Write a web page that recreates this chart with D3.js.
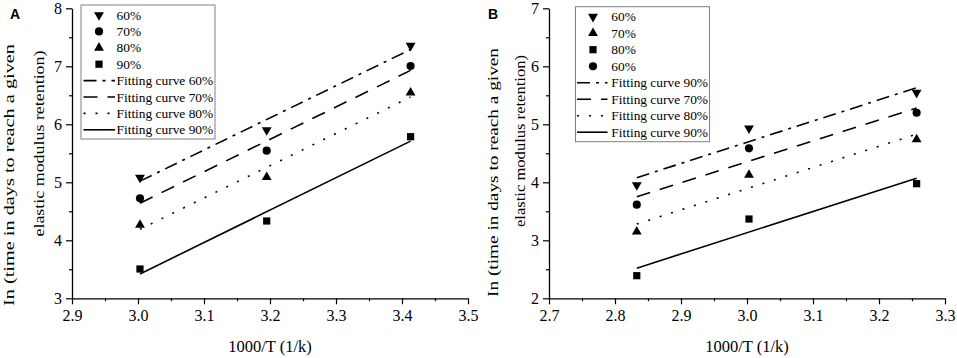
<!DOCTYPE html>
<html>
<head>
<meta charset="utf-8">
<script src="https://cdn.jsdelivr.net/npm/d3@7"></script>
<style>
  body { margin: 0; background: #fff; }
  svg text { font-family: "Liberation Serif", "Times New Roman", serif; fill: #000; }
</style>
</head>
<body>
<div id="drawing"></div>
<script>
// panel A : 1000/T values and ln(time) per retention level
var xA = [3.003, 3.195, 3.413];
var a60 = [5.08, 5.90, 7.355];
var a70 = [4.724, 5.545, 7.005];
var a80 = [4.264, 5.09, 6.545];
var a90 = [3.505, 4.333, 5.786];
var fitXA = [3.003, 3.413];
var fitA60 = [5.02, 7.29];
var fitA70 = [4.64, 6.93];
var fitA80 = [4.19, 6.47];
var fitA90 = [3.42, 5.71];
var xTicksA = [2.9, 3.0, 3.1, 3.2, 3.3, 3.4, 3.5];
var yTicksA = [3, 4, 5, 6, 7, 8];
var pointLabelsA = ["60%", "70%", "80%", "90%"];
var fitLabelsA = ["Fitting curve 60%", "Fitting curve 70%", "Fitting curve 80%", "Fitting curve 90%"];

// panel B
var xB = [2.833, 3.003, 3.257];
var b60 = [3.953, 4.93, 5.545];
var b70 = [3.148, 4.126, 4.741];
var b80 = [2.39, 3.367, 3.976];
var b60c = [3.614, 4.586, 5.2];
var fitXB = [2.833, 3.257];
var fitB1 = [4.08, 5.63];
var fitB2 = [3.75, 5.28];
var fitB3 = [3.28, 4.83];
var fitB4 = [2.52, 4.07];
var xTicksB = [2.7, 2.8, 2.9, 3.0, 3.1, 3.2, 3.3];
var yTicksB = [2, 3, 4, 5, 6, 7];
var pointLabelsB = ["60%", "70%", "80%", "60%"];
var fitLabelsB = ["Fitting curve 90%", "Fitting curve 70%", "Fitting curve 80%", "Fitting curve 90%"];

var width = 957, height = 358;
var plotW = 396, plotH = 290;
var dashes = ["13,6,3,6", "14,10", "2,10", null];

var svg = d3.select("#drawing").append("svg")
  .attr("width", width)
  .attr("height", height)
  .style("background", "#fff");

function marker(kind) {
  var sym = d3.symbol();
  if (kind == "circle") return sym.type(d3.symbolCircle).size(52)();
  if (kind == "square") return sym.type(d3.symbolSquare).size(52)();
  return sym.type(d3.symbolTriangle).size(42)();
}

function mids(ticks) {
  return d3.pairs(ticks).map(function(p) { return (p[0] + p[1]) / 2; });
}

function drawPanel(p) {
  var g = svg.append("g").attr("transform", `translate(${p.left}, 8.3)`);

  var x = d3.scaleLinear().domain(d3.extent(p.xTicks)).range([0, plotW]);
  var y = d3.scaleLinear().domain(d3.extent(p.yTicks)).range([plotH, 0]);

  // axes, major + minor ticks
  var xAxis = g.append("g").attr("transform", `translate(0, ${plotH})`)
    .call(d3.axisBottom(x).tickValues(p.xTicks).tickFormat(d3.format(".1f"))
      .tickSize(6).tickSizeOuter(0).tickPadding(5));
  g.append("g").attr("transform", `translate(0, ${plotH})`)
    .call(d3.axisBottom(x).tickValues(mids(p.xTicks)).tickFormat("").tickSize(3).tickSizeOuter(0))
    .select(".domain").remove();
  var yAxis = g.append("g")
    .call(d3.axisLeft(y).tickValues(p.yTicks).tickFormat(d3.format("d"))
      .tickSize(6).tickSizeOuter(0).tickPadding(4));
  g.append("g")
    .call(d3.axisLeft(y).tickValues(mids(p.yTicks)).tickFormat("").tickSize(3).tickSizeOuter(0))
    .select(".domain").remove();

  g.selectAll(".domain").attr("stroke", "#000").attr("stroke-width", 1.3);
  g.selectAll(".tick line").attr("stroke", "#000").attr("stroke-width", 1.2);
  g.selectAll(".tick text")
    .style("font-family", '"Liberation Serif", serif')
    .style("font-size", "16px")
    .attr("fill", "#000");

  // fitted lines
  var line = d3.line().x(function(d) { return x(d[0]); }).y(function(d) { return y(d[1]); });
  p.fits.forEach(function(f, i) {
    g.append("path")
      .attr("d", line(d3.zip(p.fitX, f)))
      .attr("fill", "none")
      .attr("stroke", "#000")
      .attr("stroke-width", 1.6)
      .attr("stroke-dasharray", dashes[i]);
  });

  // points
  p.series.forEach(function(s, i) {
    g.selectAll(null).data(d3.zip(p.xs, s)).enter().append("path")
      .attr("d", marker(p.shapes[i]))
      .attr("transform", function(d) {
        return `translate(${x(d[0])}, ${y(d[1])})` + (p.shapes[i] == "down" ? " rotate(180)" : "");
      })
      .attr("fill", "#000");
  });

  // legend
  var lg = svg.append("g");
  lg.append("rect")
    .attr("x", p.legend.x).attr("y", p.legend.y)
    .attr("width", p.legend.w).attr("height", p.legend.h)
    .attr("fill", "#fff").attr("stroke", "#808080").attr("stroke-width", 1);
  var rows = p.pointLabels.concat(p.fitLabels);
  rows.forEach(function(label, i) {
    var cy = p.legend.row0 + i * p.legend.step;
    if (i < 4) {
      lg.append("path")
        .attr("d", marker(p.shapes[i]))
        .attr("transform", `translate(${p.legend.mx}, ${cy})` + (p.shapes[i] == "down" ? " rotate(180)" : ""))
        .attr("fill", "#000");
    } else {
      lg.append("line")
        .attr("x1", p.legend.sx0).attr("x2", p.legend.sx1)
        .attr("y1", cy).attr("y2", cy)
        .attr("stroke", "#000").attr("stroke-width", 1.6)
        .attr("stroke-dasharray", dashes[i - 4]);
    }
    lg.append("text")
      .attr("x", p.legend.tx).attr("y", cy).attr("dy", "0.35em")
      .style("font-size", "13.4px")
      .text(label);
  });

  // axis titles
  svg.append("text")
    .attr("x", p.left + plotW / 2).attr("y", 352)
    .attr("text-anchor", "middle")
    .style("font-size", "16.5px")
    .text("1000/T (1/k)");
  p.yTitle.forEach(function(t) {
    svg.append("text")
      .attr("transform", `translate(${t.x}, ${t.cy}) rotate(-90)`)
      .attr("text-anchor", "middle")
      .attr("textLength", t.len)
      .attr("lengthAdjust", "spacingAndGlyphs")
      .style("font-size", "15px")
      .text(t.text);
  });

  svg.append("text")
    .attr("x", p.tagX).attr("y", 18.5)
    .style("font-family", '"Liberation Sans", Arial, sans-serif')
    .style("font-weight", "bold")
    .style("font-size", "14px")
    .text(p.tag);
}

var line1 = "In (time in days to reach a given";
var line2 = "elastic modulus retention)";

drawPanel({
  left: 72, tag: "A", tagX: 10,
  xTicks: xTicksA, yTicks: yTicksA,
  xs: xA, series: [a60, a70, a80, a90],
  shapes: ["down", "circle", "up", "square"],
  fitX: fitXA, fits: [fitA60, fitA70, fitA80, fitA90],
  pointLabels: pointLabelsA, fitLabels: fitLabelsA,
  legend: { x: 81, y: 5, w: 134, h: 134, row0: 15, step: 16.4, mx: 99, sx0: 83.5, sx1: 115, tx: 116.5 },
  yTitle: [
    { text: line1, x: 13.5, cy: 175, len: 262 },
    { text: line2, x: 43.5, cy: 143.5, len: 186 }
  ]
});

drawPanel({
  left: 549, tag: "B", tagX: 488,
  xTicks: xTicksB, yTicks: yTicksB,
  xs: xB, series: [b60, b70, b80, b60c],
  shapes: ["down", "up", "square", "circle"],
  fitX: fitXB, fits: [fitB1, fitB2, fitB3, fitB4],
  pointLabels: pointLabelsB, fitLabels: fitLabelsB,
  legend: { x: 575.5, y: 6.7, w: 134, h: 135, row0: 16.7, step: 16.5, mx: 593, sx0: 577, sx1: 607.5, tx: 611.3 },
  yTitle: [
    { text: line1, x: 498, cy: 172.5, len: 249 },
    { text: line2, x: 525, cy: 141, len: 172 }
  ]
});
</script>
</body>
</html>
